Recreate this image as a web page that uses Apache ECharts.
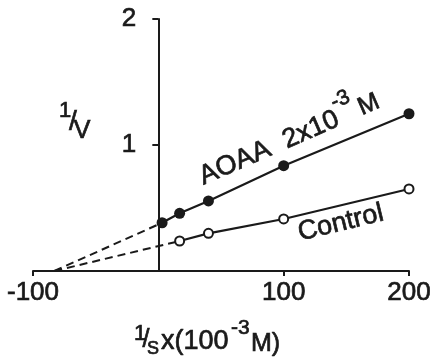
<!DOCTYPE html>
<html>
<head>
<meta charset="utf-8">
<script src="https://cdn.jsdelivr.net/npm/echarts@6.0.0/dist/echarts.min.js"></script>
<style>
  html, body { margin: 0; padding: 0; background: #fff; }
  #main { width: 430px; height: 358px; }
</style>
</head>
<body>
<div id="main"></div>
<script>
// 数据 (1/S , 1/V)
var aoaaX = [3, 17, 40, 100, 200];
var aoaaY = [0.383, 0.458, 0.556, 0.836, 1.248];
var controlX = [17, 40, 100, 200];
var controlY = [0.238, 0.299, 0.413, 0.651];
// 外推虚线交于x轴的位置
var extrapX = -83;
var xTicks = [-100, 100, 200];
var yTicks = [1, 2];

var ink = "#1a1a1a";
var font = "Liberation Sans";

function pairs(xs, ys) {
  var out = [];
  for (var i = 0; i < xs.length; i++) out.push([xs[i], ys[i]]);
  return out;
}

// 文字样式（略加描边让笔画更粗）
function txt(x, y, text, size, align) {
  return {
    type: "text",
    x: x,
    y: y,
    style: {
      text: text,
      font: size + "px " + font,
      fill: ink,
      stroke: ink,
      lineWidth: 0.7,
      align: align || "left",
      verticalAlign: "middle",
    },
  };
}

var chart = echarts.init(document.getElementById("main"), null, { renderer: "canvas" });

var gridLeft = 33;
var gridRight = 21;
var plotW = 430 - gridLeft - gridRight;
// y轴放在 x=0 处
var yAxisOffset = -plotW * (0 - -100) / (200 - -100);

var option = {
  animation: false,
  backgroundColor: "#fff",
  grid: { left: gridLeft, right: gridRight, top: 19, bottom: 87, outerBoundsMode: "none" },
  xAxis: {
    type: "value",
    min: -100,
    max: 200,
    interval: 100,
    axisLine: { onZero: false, lineStyle: { color: ink, width: 2 } },
    axisTick: { customValues: xTicks, length: 5, lineStyle: { color: ink, width: 2 } },
    axisLabel: {
      customValues: xTicks,
      color: ink,
      fontSize: 26,
      fontFamily: font,
      margin: 9,
      textBorderColor: ink,
      textBorderWidth: 0.7,
    },
    splitLine: { show: false },
  },
  yAxis: {
    type: "value",
    min: 0,
    max: 2,
    interval: 1,
    offset: yAxisOffset,
    axisLine: { show: true, onZero: false, lineStyle: { color: ink, width: 2 } },
    axisTick: { customValues: yTicks, length: 6, lineStyle: { color: ink, width: 2 } },
    axisLabel: {
      customValues: yTicks,
      color: ink,
      fontSize: 26,
      fontFamily: font,
      margin: 22,
      textBorderColor: ink,
      textBorderWidth: 0.7,
    },
    splitLine: { show: false },
  },
  series: [
    {
      // AOAA 外推虚线
      type: "line",
      data: [[extrapX, 0], [aoaaX[0], aoaaY[0]]],
      symbol: "none",
      lineStyle: { color: ink, width: 2, type: [8, 5] },
      z: 1,
    },
    {
      // Control 外推虚线
      type: "line",
      data: [[extrapX, 0], [controlX[0], controlY[0]]],
      symbol: "none",
      lineStyle: { color: ink, width: 2, type: [8, 5] },
      z: 1,
    },
    {
      name: "AOAA",
      type: "line",
      data: pairs(aoaaX, aoaaY),
      symbol: "circle",
      symbolSize: 11,
      itemStyle: { color: ink },
      lineStyle: { color: ink, width: 2.2 },
      z: 3,
    },
    {
      name: "Control",
      type: "line",
      data: pairs(controlX, controlY),
      symbol: "circle",
      symbolSize: 9,
      itemStyle: { color: "#fff", borderColor: ink, borderWidth: 2 },
      lineStyle: { color: ink, width: 2.2 },
      z: 3,
    },
  ],
  graphic: [
    // y轴标题 1/V
    txt(65, 111, "1", 22, "center"),
    txt(73, 122, "/", 28, "center"),
    txt(82, 131, "V", 25, "center"),
    // x轴标题 1/S x(10^-3 M)
    txt(140, 334, "1", 22, "center"),
    txt(146, 340, "/", 25, "center"),
    txt(153, 349, "S", 18, "center"),
    txt(161, 342, "x(100", 27),
    txt(231, 328, "-3", 21),
    txt(251, 344, "M)", 25),
    // 曲线标注
    {
      type: "group",
      x: 205,
      y: 188,
      rotation: 0.41,
      children: [
        txt(0, -11, "AOAA", 27),
        txt(91, -11, "2x10", 27),
        txt(150, -27, "-3", 21),
        txt(173, -11, "M", 25),
      ],
    },
    {
      type: "group",
      x: 301,
      y: 244,
      rotation: 0.237,
      children: [txt(0, -11, "Control", 27)],
    },
  ],
};

chart.setOption(option);
</script>
</body>
</html>
